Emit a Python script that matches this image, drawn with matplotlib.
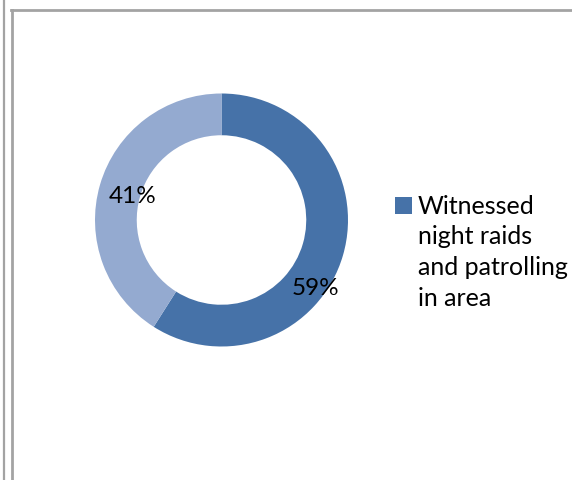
import matplotlib.pyplot as plt
from matplotlib.lines import Line2D
from matplotlib.patches import Rectangle
from matplotlib.legend_handler import HandlerPatch

plt.rcParams['font.family'] = ['Lato', 'DejaVu Sans']

# dados do gráfico
categorias = ['Witnessed\nnight raids\nand patrolling\nin area', '']
valores = [59, 41]
cores = ['#4672A8', '#94AAD0']

W, H = 572, 481
fig = plt.figure(figsize=(W / 100, H / 100), dpi=100)

# moldura cinza (dupla à esquerda, simples no topo)
cinza = '#A3A3A3'
fig.add_artist(Line2D([4 / W, 4 / W], [0, 1], color=cinza, lw=1.6, transform=fig.transFigure))
fig.add_artist(Line2D([11.5 / W, 11.5 / W], [0, 1 - 10.5 / H], color=cinza, lw=2.0, transform=fig.transFigure))
fig.add_artist(Line2D([10.5 / W, 1], [1 - 10.5 / H, 1 - 10.5 / H], color=cinza, lw=2.0, transform=fig.transFigure))

# rosca
cx, cy, r = 221.5, H - 221, 126.5
ax = fig.add_axes([(cx - r) / W, (cy - r) / H, 2 * r / W, 2 * r / H])
fatias, _ = ax.pie(valores, colors=cores, startangle=90, counterclock=False,
                   radius=1, wedgeprops=dict(width=0.33, linewidth=0))
ax.set_xlim(-1, 1)
ax.set_ylim(-1, 1)

# rótulos de porcentagem
posicoes = [(0.745, -0.53), (-0.70, 0.19)]
for v, (x, y) in zip(valores, posicoes):
    ax.text(x, y, f'{v}%', ha='center', va='center', fontsize=17.5, color='black')

tam_leg = 18
espaco = 1.42


# quadradinho da legenda alinhado à primeira linha do texto
def quadrado_topo(legend, orig_handle, xdescent, ydescent, width, height, fontsize):
    lado = height
    desloc = 1.5 * espaco * 0.85 * fontsize + 1
    return Rectangle((-xdescent + (width - lado), -ydescent + desloc), lado, lado)


leg = fig.legend([fatias[0]], [categorias[0]], loc='upper left',
                 bbox_to_anchor=(396 / W, 1 - 194.5 / H), frameon=False,
                 fontsize=tam_leg, handlelength=0.64, handleheight=0.64, handletextpad=0.22,
                 borderaxespad=0, borderpad=0,
                 handler_map={fatias[0]: HandlerPatch(patch_func=quadrado_topo)})
for t in leg.get_texts():
    t.set_linespacing(espaco)

fig.savefig('out.png', dpi=100)
